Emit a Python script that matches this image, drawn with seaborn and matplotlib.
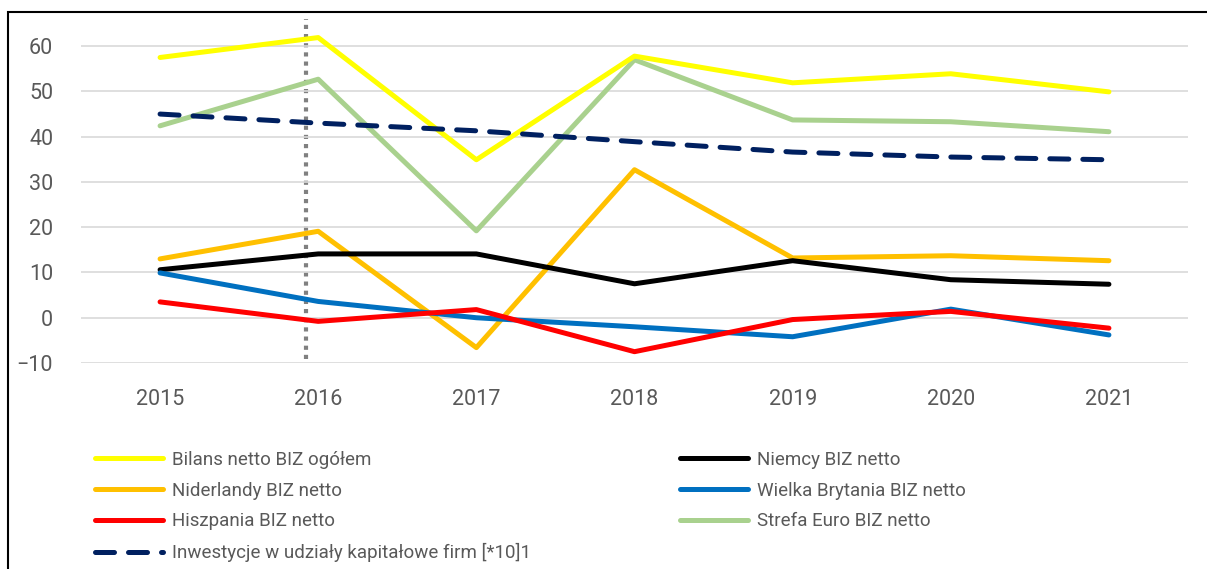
import pandas as pd
import matplotlib
matplotlib.use("Agg")
import matplotlib.pyplot as plt
import matplotlib.patches as mpatches
import seaborn as sns

years = ["2015", "2016", "2017", "2018", "2019", "2020", "2021"]
bilans = [57.5, 61.9, 34.9, 57.8, 51.9, 53.9, 49.9]
niderlandy = [13.0, 19.1, -6.6, 32.7, 13.2, 13.7, 12.6]
hiszpania = [3.5, -0.8, 1.8, -7.5, -0.4, 1.4, -2.3]
inwestycje = [45.0, 43.0, 41.3, 38.9, 36.6, 35.5, 34.9]
niemcy = [10.6, 14.1, 14.1, 7.5, 12.6, 8.4, 7.4]
wielka_brytania = [9.9, 3.6, 0.0, -2.0, -4.2, 1.9, -3.8]
strefa_euro = [42.4, 52.7, 19.2, 57.0, 43.7, 43.3, 41.1]

names = [
    "Bilans netto BIZ ogółem",
    "Niderlandy BIZ netto",
    "Hiszpania BIZ netto",
    "Inwestycje w udziały kapitałowe firm [*10]1",
    "Niemcy BIZ netto",
    "Wielka Brytania BIZ netto",
    "Strefa Euro BIZ netto",
]
series = [bilans, niderlandy, hiszpania, inwestycje, niemcy, wielka_brytania, strefa_euro]
colors = ["#FFFF00", "#FFC000", "#FF0000", "#002060", "#000000", "#0070C0", "#A9D18E"]
# draw order so the overlaps look like the original
draw_order = [6, 0, 3, 1, 4, 5, 2]
marker_pos = 0.92  # dotted marker near 2016

rows = []
for name, vals in zip(names, series):
    for y, v in zip(years, vals):
        rows.append({"rok": y, "wartosc": v, "seria": name})
df = pd.DataFrame(rows)

sns.set_style("white")
plt.rcParams["font.family"] = ["Roboto", "DejaVu Sans"]
text_col = "#595959"

fig = plt.figure(figsize=(12.07, 5.69), dpi=100)
ax = fig.add_axes([81 / 1207, 1 - 363 / 569, (1188 - 81) / 1207, (363 - 19) / 569])

handles = {}
for i in draw_order:
    sub = df[df["seria"] == names[i]]
    sns.lineplot(data=sub, x="rok", y="wartosc", color=colors[i], lw=3.6,
                 ax=ax, sort=False, label=names[i])
    line = ax.lines[-1]
    line.set_solid_capstyle("round")
    if i == 3:
        line.set_dashes([3.8, 2.8])
        line.set_dash_capstyle("round")
    handles[names[i]] = line

ax.axvline(marker_pos, ymin=0.0125, ymax=1.0, color="#808080", lw=3, ls=(0, (1, 1.2)), zorder=0.5)

ax.set_xlim(-0.5, 6.5)
ax.set_ylim(-10, 66)
ax.set_yticks(range(-10, 61, 10))
ax.grid(axis="y", color="#D9D9D9", lw=1.2)
ax.set_axisbelow(True)
for s in ax.spines.values():
    s.set_visible(False)
ax.tick_params(axis="both", length=0, labelsize=15.5, labelcolor=text_col)
ax.tick_params(axis="y", pad=20)
ax.tick_params(axis="x", pad=19)
ax.set_xlabel("")
ax.set_ylabel("")
ax.get_legend().remove()

leg_kw = dict(frameon=False, fontsize=13.5, handlelength=3.6, handletextpad=0.5,
              labelspacing=0.68, loc="upper left", labelcolor=text_col,
              borderaxespad=0, borderpad=0)
left_names = names[:4]
right_names = names[4:]
fig.legend([handles[n] for n in left_names], left_names,
           bbox_to_anchor=(95 / 1207, 1 - 451 / 569), **leg_kw)
fig.legend([handles[n] for n in right_names], right_names,
           bbox_to_anchor=(680 / 1207, 1 - 451 / 569), **leg_kw)

fig.patches.append(mpatches.Rectangle((8 / 1207, -0.1), 1.2, 1.1 - 12 / 569,
                                      transform=fig.transFigure, fill=False,
                                      ec="black", lw=1.5))

fig.savefig("out.png", dpi=100)
